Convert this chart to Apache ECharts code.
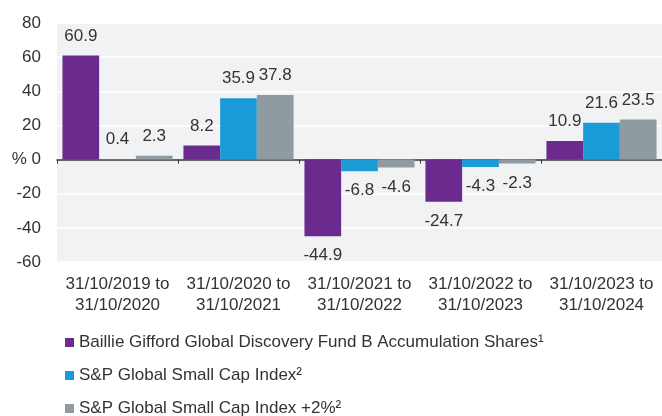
<!DOCTYPE html>
<html>
<head>
<meta charset="utf-8">
<script src="https://cdn.jsdelivr.net/npm/echarts@6/dist/echarts.min.js"></script>
<style>
  html, body { margin: 0; padding: 0; background: #fff; }
  #chart { width: 662px; height: 416px; }
</style>
</head>
<body>
<div id="chart"></div>
<script>
var categories = ['31/10/2019 to\n31/10/2020', '31/10/2020 to\n31/10/2021', '31/10/2021 to\n31/10/2022', '31/10/2022 to\n31/10/2023', '31/10/2023 to\n31/10/2024'];
var seriesNames = ['Baillie Gifford Global Discovery Fund B Accumulation Shares\u00b9', 'S&P Global Small Cap Index\u00b2', 'S&P Global Small Cap Index +2%\u00b2'];
var fundValues = [60.9, 8.2, -44.9, -24.7, 10.9];
var indexValues = [0.4, 35.9, -6.8, -4.3, 21.6];
var indexPlusValues = [2.3, 37.8, -4.6, -2.3, 23.5];
var colors = ['#6a2a8e', '#1a9ad6', '#8f9aa1'];

var font = 'Liberation Sans, Arial, Helvetica, sans-serif';
var chart = echarts.init(document.getElementById('chart'));

// negative bars get their label underneath
function barSeries(name, values, color) {
    return {
        name: name,
        type: 'bar',
        xAxisIndex: 1,
        data: values.map(function (v) {
            return v < 0 ? { value: v, label: { position: 'bottom' } } : v;
        }),
        barGap: '0%',
        barCategoryGap: '9%',
        itemStyle: { color: color },
        label: {
            show: true,
            position: 'top',
            distance: 11,
            color: '#333',
            fontSize: 17,
            fontFamily: font,
            formatter: function (p) { return (+p.value).toFixed(1); }
        }
    };
}

// one legend per row so they stack like the original
var legendTops = [329, 362, 395];
var legends = seriesNames.map(function (name, i) {
    return {
        left: 60,
        top: legendTops[i],
        itemWidth: 9,
        itemHeight: 9,
        icon: 'rect',
        textStyle: { fontSize: 17, color: '#333', fontFamily: font },
        data: [name]
    };
});

var option = {
    animation: false,
    textStyle: { fontFamily: font },
    grid: {
        left: 57, right: -4, top: 23, bottom: 154,
        show: true, backgroundColor: '#f1f2f4', borderWidth: 0
    },
    legend: legends,
    xAxis: [{
        type: 'category',
        data: categories,
        position: 'bottom',
        axisLine: { show: false, onZero: false },
        axisTick: { show: false },
        axisLabel: { color: '#333', fontSize: 17, lineHeight: 21, margin: 12, interval: 0, fontFamily: font }
    }, {
        type: 'category',
        data: categories,
        position: 'bottom',
        axisLine: { show: true, onZero: true, lineStyle: { color: '#333', width: 1.5 } },
        axisTick: { show: true, length: 4, lineStyle: { color: '#333' } },
        axisLabel: { show: false }
    }],
    yAxis: {
        type: 'value',
        min: -60,
        max: 80,
        interval: 20,
        axisLine: { show: false },
        axisTick: { show: false },
        splitLine: { lineStyle: { color: '#ffffff', width: 1.5 } },
        axisLabel: {
            color: '#333', fontSize: 17, margin: 16, fontFamily: font,
            formatter: function (v) { return v === 0 ? '% 0' : v; }
        }
    },
    series: [
        barSeries(seriesNames[0], fundValues, colors[0]),
        barSeries(seriesNames[1], indexValues, colors[1]),
        barSeries(seriesNames[2], indexPlusValues, colors[2])
    ]
};

chart.setOption(option);
</script>
</body>
</html>
